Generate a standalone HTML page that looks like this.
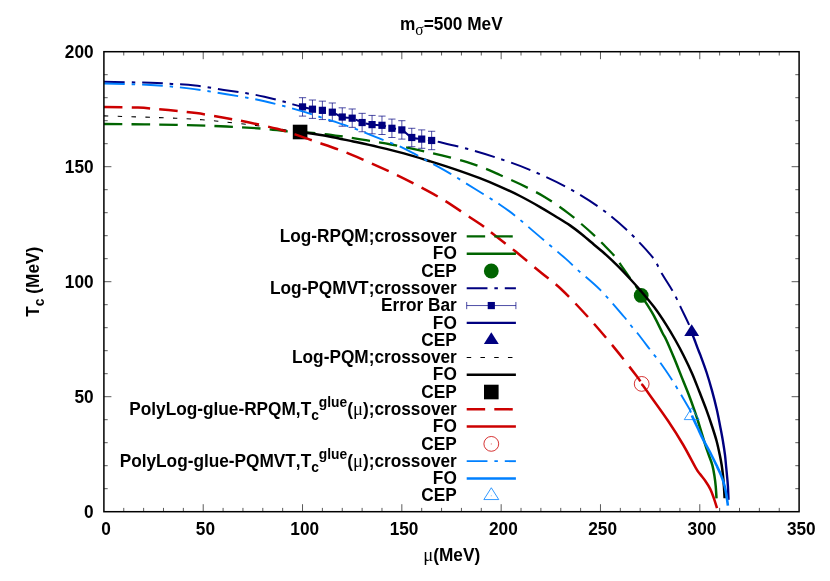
<!DOCTYPE html>
<html><head><meta charset="utf-8"><title>Phase diagram</title>
<style>html,body{margin:0;padding:0;background:#fff;}body{width:830px;height:581px;overflow:hidden;}svg{display:block;will-change:transform;}text{font-family:"Liberation Sans",sans-serif;font-weight:bold;fill:#000;font-kerning:none;}.sym{font-family:"Liberation Serif",serif;font-weight:normal;}</style>
</head><body>
<svg width="830" height="581" viewBox="0 0 830 581">
<rect width="830" height="581" fill="#fff"/>
<g stroke="#000" stroke-width="0.65" fill="none">
<path d="M123.76,511.70 v-3.80 M123.76,51.70 v3.80"/>
<path d="M143.63,511.70 v-3.80 M143.63,51.70 v3.80"/>
<path d="M163.49,511.70 v-3.80 M163.49,51.70 v3.80"/>
<path d="M183.35,511.70 v-3.80 M183.35,51.70 v3.80"/>
<path d="M203.21,511.70 v-7.50 M203.21,51.70 v7.50"/>
<path d="M223.08,511.70 v-3.80 M223.08,51.70 v3.80"/>
<path d="M242.94,511.70 v-3.80 M242.94,51.70 v3.80"/>
<path d="M262.80,511.70 v-3.80 M262.80,51.70 v3.80"/>
<path d="M282.67,511.70 v-3.80 M282.67,51.70 v3.80"/>
<path d="M302.53,511.70 v-7.50 M302.53,51.70 v7.50"/>
<path d="M322.39,511.70 v-3.80 M322.39,51.70 v3.80"/>
<path d="M342.25,511.70 v-3.80 M342.25,51.70 v3.80"/>
<path d="M362.12,511.70 v-3.80 M362.12,51.70 v3.80"/>
<path d="M381.98,511.70 v-3.80 M381.98,51.70 v3.80"/>
<path d="M401.84,511.70 v-7.50 M401.84,51.70 v7.50"/>
<path d="M421.71,511.70 v-3.80 M421.71,51.70 v3.80"/>
<path d="M441.57,511.70 v-3.80 M441.57,51.70 v3.80"/>
<path d="M461.43,511.70 v-3.80 M461.43,51.70 v3.80"/>
<path d="M481.29,511.70 v-3.80 M481.29,51.70 v3.80"/>
<path d="M501.16,511.70 v-7.50 M501.16,51.70 v7.50"/>
<path d="M521.02,511.70 v-3.80 M521.02,51.70 v3.80"/>
<path d="M540.88,511.70 v-3.80 M540.88,51.70 v3.80"/>
<path d="M560.75,511.70 v-3.80 M560.75,51.70 v3.80"/>
<path d="M580.61,511.70 v-3.80 M580.61,51.70 v3.80"/>
<path d="M600.47,511.70 v-7.50 M600.47,51.70 v7.50"/>
<path d="M620.33,511.70 v-3.80 M620.33,51.70 v3.80"/>
<path d="M640.20,511.70 v-3.80 M640.20,51.70 v3.80"/>
<path d="M660.06,511.70 v-3.80 M660.06,51.70 v3.80"/>
<path d="M679.92,511.70 v-3.80 M679.92,51.70 v3.80"/>
<path d="M699.79,511.70 v-7.50 M699.79,51.70 v7.50"/>
<path d="M719.65,511.70 v-3.80 M719.65,51.70 v3.80"/>
<path d="M739.51,511.70 v-3.80 M739.51,51.70 v3.80"/>
<path d="M759.37,511.70 v-3.80 M759.37,51.70 v3.80"/>
<path d="M779.24,511.70 v-3.80 M779.24,51.70 v3.80"/>
<path d="M103.90,488.70 h3.80 M799.10,488.70 h-3.80"/>
<path d="M103.90,465.70 h3.80 M799.10,465.70 h-3.80"/>
<path d="M103.90,442.70 h3.80 M799.10,442.70 h-3.80"/>
<path d="M103.90,419.70 h3.80 M799.10,419.70 h-3.80"/>
<path d="M103.90,396.70 h7.50 M799.10,396.70 h-7.50"/>
<path d="M103.90,373.70 h3.80 M799.10,373.70 h-3.80"/>
<path d="M103.90,350.70 h3.80 M799.10,350.70 h-3.80"/>
<path d="M103.90,327.70 h3.80 M799.10,327.70 h-3.80"/>
<path d="M103.90,304.70 h3.80 M799.10,304.70 h-3.80"/>
<path d="M103.90,281.70 h7.50 M799.10,281.70 h-7.50"/>
<path d="M103.90,258.70 h3.80 M799.10,258.70 h-3.80"/>
<path d="M103.90,235.70 h3.80 M799.10,235.70 h-3.80"/>
<path d="M103.90,212.70 h3.80 M799.10,212.70 h-3.80"/>
<path d="M103.90,189.70 h3.80 M799.10,189.70 h-3.80"/>
<path d="M103.90,166.70 h7.50 M799.10,166.70 h-7.50"/>
<path d="M103.90,143.70 h3.80 M799.10,143.70 h-3.80"/>
<path d="M103.90,120.70 h3.80 M799.10,120.70 h-3.80"/>
<path d="M103.90,97.70 h3.80 M799.10,97.70 h-3.80"/>
<path d="M103.90,74.70 h3.80 M799.10,74.70 h-3.80"/>
</g>
<g font-size="17.25">
<text transform="translate(106.10,534.70) scale(1,1.050)" text-anchor="middle" font-size="17.25">0</text>
<text transform="translate(205.41,534.70) scale(1,1.050)" text-anchor="middle" font-size="17.25">50</text>
<text transform="translate(304.73,534.70) scale(1,1.050)" text-anchor="middle" font-size="17.25">100</text>
<text transform="translate(404.04,534.70) scale(1,1.050)" text-anchor="middle" font-size="17.25">150</text>
<text transform="translate(503.36,534.70) scale(1,1.050)" text-anchor="middle" font-size="17.25">200</text>
<text transform="translate(602.67,534.70) scale(1,1.050)" text-anchor="middle" font-size="17.25">250</text>
<text transform="translate(701.99,534.70) scale(1,1.050)" text-anchor="middle" font-size="17.25">300</text>
<text transform="translate(801.30,534.70) scale(1,1.050)" text-anchor="middle" font-size="17.25">350</text>
<text transform="translate(93.60,517.60) scale(1,1.050)" text-anchor="end" font-size="17.25">0</text>
<text transform="translate(93.60,402.60) scale(1,1.050)" text-anchor="end" font-size="17.25">50</text>
<text transform="translate(93.60,287.60) scale(1,1.050)" text-anchor="end" font-size="17.25">100</text>
<text transform="translate(93.60,172.60) scale(1,1.050)" text-anchor="end" font-size="17.25">150</text>
<text transform="translate(93.60,57.60) scale(1,1.050)" text-anchor="end" font-size="17.25">200</text>
</g>
<g id="curves">
<path d="M104.00,124.00 C115.98,124.13 155.48,124.38 175.90,124.80 C196.32,125.22 211.73,125.83 226.50,126.50 C241.27,127.17 254.38,127.98 264.50,128.80 C274.62,129.62 278.73,130.68 287.20,131.40 C295.67,132.12 306.40,132.30 315.30,133.10 C324.20,133.90 332.17,135.02 340.60,136.20 C349.03,137.38 357.47,138.82 365.90,140.20 C374.33,141.58 382.77,142.93 391.20,144.50 C399.63,146.07 408.07,147.78 416.50,149.60 C424.93,151.42 433.37,153.30 441.80,155.40 C450.23,157.50 459.90,160.02 467.10,162.20 C474.30,164.38 479.52,166.37 485.00,168.50 C490.48,170.63 494.08,172.37 500.00,175.00 C505.92,177.63 513.07,180.65 520.50,184.30 C527.93,187.95 536.77,192.18 544.60,196.90 C552.43,201.62 561.27,208.00 567.50,212.60 C573.73,217.20 577.37,220.55 582.00,224.50 C586.63,228.45 591.88,233.13 595.30,236.30 C598.72,239.47 599.28,240.20 602.50,243.50 C605.72,246.80 611.58,252.58 614.60,256.10 C617.62,259.62 618.20,261.18 620.60,264.60 C623.00,268.02 626.18,272.58 629.00,276.60 C631.82,280.62 635.47,285.57 637.50,288.70 C639.53,291.83 640.58,294.28 641.20,295.40" fill="none" stroke="#006400" stroke-width="2.30" stroke-linecap="butt" stroke-linejoin="round" stroke-dasharray="18.45 9.15"/>
<path d="M641.20,295.40 C641.95,296.55 643.55,298.85 645.70,302.30 C647.85,305.75 651.30,310.98 654.10,316.10 C656.90,321.22 660.47,329.02 662.50,333.00 C664.53,336.98 664.37,335.82 666.30,340.00 C668.23,344.18 671.60,352.08 674.10,358.10 C676.60,364.12 678.88,370.08 681.30,376.10 C683.72,382.12 686.43,388.57 688.60,394.20 C690.77,399.83 692.63,405.10 694.30,409.90 C695.97,414.70 696.78,417.22 698.60,423.00 C700.42,428.78 703.50,439.27 705.20,444.60 C706.90,449.93 707.60,451.55 708.80,455.00 C710.00,458.45 711.47,461.87 712.40,465.30 C713.33,468.73 713.85,472.15 714.40,475.60 C714.95,479.05 715.35,482.22 715.70,486.00 C716.05,489.78 716.37,496.25 716.50,498.30" fill="none" stroke="#006400" stroke-width="2.50" stroke-linecap="butt" stroke-linejoin="round"/>
<circle cx="641.20" cy="295.40" r="7.40" fill="#006400"/>
<path d="M104.00,81.70 C111.77,81.88 139.27,82.43 150.60,82.80 C161.93,83.17 164.60,83.47 172.00,83.90 C179.40,84.33 186.35,84.40 195.00,85.40 C203.65,86.40 215.47,88.62 223.90,89.90 C232.33,91.18 238.85,91.97 245.60,93.10 C252.35,94.23 258.13,95.30 264.40,96.70 C270.67,98.10 278.43,100.22 283.20,101.50 C287.97,102.78 289.78,103.50 293.00,104.40 C296.22,105.30 299.29,106.10 302.53,106.90 C305.77,107.70 309.15,108.63 312.46,109.20 C315.77,109.78 319.08,109.85 322.39,110.35 C325.70,110.85 329.01,111.08 332.32,112.19 C335.63,113.30 338.94,116.02 342.25,117.02 C345.56,118.02 348.88,117.25 352.19,118.17 C355.50,119.09 358.81,121.47 362.12,122.54 C365.43,123.61 368.74,124.15 372.05,124.61 C375.36,125.07 378.67,124.69 381.98,125.30 C385.29,125.91 388.60,127.52 391.91,128.29 C395.22,129.06 398.53,128.37 401.84,129.90 C405.15,131.43 408.46,135.96 411.77,137.49 C415.08,139.02 418.40,138.60 421.71,139.10 C425.02,139.60 428.70,140.00 431.64,140.48 C434.57,140.96 433.39,140.61 439.30,142.00 C445.21,143.39 457.82,146.27 467.10,148.80 C476.38,151.33 484.85,153.82 495.00,157.20 C505.15,160.58 516.18,164.17 528.00,169.10 C539.82,174.03 554.10,180.48 565.90,186.80 C577.70,193.12 588.68,199.83 598.80,207.00 C608.92,214.17 617.75,221.57 626.60,229.80 C635.45,238.03 646.13,249.28 651.90,256.40 C657.67,263.52 657.82,266.87 661.20,272.50 C664.58,278.13 669.67,285.93 672.20,290.20 C674.73,294.47 675.00,295.28 676.40,298.10 C677.80,300.92 678.50,302.68 680.60,307.10 C682.70,311.52 687.15,320.47 689.00,324.60 C690.85,328.73 691.25,330.68 691.70,331.90" fill="none" stroke="#000080" stroke-width="2.00" stroke-linecap="butt" stroke-linejoin="round" stroke-dasharray="20.77 6.92 3.47 6.92"/>
<g stroke="#000080" stroke-width="0.7" fill="none">
<path d="M302.53,97.70 V116.10 M298.93,97.70 h7.20 M298.93,116.10 h7.20"/>
<path d="M312.46,100.00 V118.40 M308.86,100.00 h7.20 M308.86,118.40 h7.20"/>
<path d="M322.39,101.15 V119.55 M318.79,101.15 h7.20 M318.79,119.55 h7.20"/>
<path d="M332.32,102.99 V121.39 M328.72,102.99 h7.20 M328.72,121.39 h7.20"/>
<path d="M342.25,107.82 V126.22 M338.65,107.82 h7.20 M338.65,126.22 h7.20"/>
<path d="M352.19,108.97 V127.37 M348.59,108.97 h7.20 M348.59,127.37 h7.20"/>
<path d="M362.12,113.34 V131.74 M358.52,113.34 h7.20 M358.52,131.74 h7.20"/>
<path d="M372.05,115.41 V133.81 M368.45,115.41 h7.20 M368.45,133.81 h7.20"/>
<path d="M381.98,116.10 V134.50 M378.38,116.10 h7.20 M378.38,134.50 h7.20"/>
<path d="M391.91,119.09 V137.49 M388.31,119.09 h7.20 M388.31,137.49 h7.20"/>
<path d="M401.84,120.70 V139.10 M398.24,120.70 h7.20 M398.24,139.10 h7.20"/>
<path d="M411.77,128.29 V146.69 M408.17,128.29 h7.20 M408.17,146.69 h7.20"/>
<path d="M421.71,129.90 V148.30 M418.11,129.90 h7.20 M418.11,148.30 h7.20"/>
<path d="M431.64,131.28 V149.68 M428.04,131.28 h7.20 M428.04,149.68 h7.20"/>
</g>
<rect x="298.93" y="103.30" width="7.20" height="7.20" fill="#000080"/>
<rect x="308.86" y="105.60" width="7.20" height="7.20" fill="#000080"/>
<rect x="318.79" y="106.75" width="7.20" height="7.20" fill="#000080"/>
<rect x="328.72" y="108.59" width="7.20" height="7.20" fill="#000080"/>
<rect x="338.65" y="113.42" width="7.20" height="7.20" fill="#000080"/>
<rect x="348.59" y="114.57" width="7.20" height="7.20" fill="#000080"/>
<rect x="358.52" y="118.94" width="7.20" height="7.20" fill="#000080"/>
<rect x="368.45" y="121.01" width="7.20" height="7.20" fill="#000080"/>
<rect x="378.38" y="121.70" width="7.20" height="7.20" fill="#000080"/>
<rect x="388.31" y="124.69" width="7.20" height="7.20" fill="#000080"/>
<rect x="398.24" y="126.30" width="7.20" height="7.20" fill="#000080"/>
<rect x="408.17" y="133.89" width="7.20" height="7.20" fill="#000080"/>
<rect x="418.11" y="135.50" width="7.20" height="7.20" fill="#000080"/>
<rect x="428.04" y="136.88" width="7.20" height="7.20" fill="#000080"/>
<path d="M691.70,331.90 C691.97,332.68 692.82,335.25 693.30,336.60 C693.78,337.95 693.90,338.12 694.60,340.00 C695.30,341.88 696.50,345.28 697.50,347.90 C698.50,350.52 699.08,351.60 700.60,355.70 C702.12,359.80 704.70,366.68 706.60,372.50 C708.50,378.32 710.28,384.37 712.00,390.60 C713.72,396.83 715.52,403.83 716.90,409.90 C718.28,415.97 719.30,421.82 720.30,427.00 C721.30,432.18 722.12,436.33 722.90,441.00 C723.68,445.67 724.48,450.95 725.00,455.00 C725.52,459.05 725.67,461.87 726.00,465.30 C726.33,468.73 726.68,472.15 727.00,475.60 C727.32,479.05 727.65,481.95 727.90,486.00 C728.15,490.05 728.40,497.58 728.50,499.90" fill="none" stroke="#000080" stroke-width="2.40" stroke-linecap="butt" stroke-linejoin="round"/>
<polygon points="691.70,324.20 684.25,336.00 699.15,336.00" fill="#000080"/>
<path d="M104.00,115.90 C115.98,116.28 159.53,117.55 175.90,118.20 C192.27,118.85 193.77,119.15 202.20,119.80 C210.63,120.45 218.23,121.23 226.50,122.10 C234.77,122.97 243.72,123.97 251.80,125.00 C259.88,126.03 266.95,127.13 275.00,128.30 C283.05,129.47 295.92,131.38 300.10,132.00" fill="none" stroke="#000000" stroke-width="1.10" stroke-linecap="butt" stroke-linejoin="round" stroke-dasharray="4.5 9.25"/>
<path d="M300.10,132.00 C304.75,132.70 319.13,134.62 328.00,136.20 C336.87,137.78 344.87,139.68 353.30,141.50 C361.73,143.32 370.17,145.12 378.60,147.10 C387.03,149.08 395.47,151.08 403.90,153.40 C412.33,155.72 420.77,158.38 429.20,161.00 C437.63,163.62 446.07,166.23 454.50,169.10 C462.93,171.97 472.22,175.28 479.80,178.20 C487.38,181.12 493.30,183.63 500.00,186.60 C506.70,189.57 513.23,192.55 520.00,196.00 C526.77,199.45 534.77,203.97 540.60,207.30 C546.43,210.63 550.10,212.98 555.00,216.00 C559.90,219.02 565.50,222.32 570.00,225.40 C574.50,228.48 577.98,231.28 582.00,234.50 C586.02,237.72 590.08,241.30 594.10,244.70 C598.12,248.10 602.08,251.28 606.10,254.90 C610.12,258.52 614.18,262.38 618.20,266.40 C622.22,270.42 626.58,275.08 630.20,279.00 C633.82,282.92 635.92,285.22 639.90,289.90 C643.88,294.58 649.73,301.32 654.10,307.10 C658.47,312.88 662.57,319.12 666.10,324.60 C669.63,330.08 672.37,334.82 675.30,340.00 C678.23,345.18 680.88,350.08 683.70,355.70 C686.52,361.32 689.58,367.68 692.20,373.70 C694.82,379.72 697.03,385.77 699.40,391.80 C701.77,397.83 704.25,404.03 706.40,409.90 C708.55,415.77 710.60,421.82 712.30,427.00 C714.00,432.18 715.35,436.33 716.60,441.00 C717.85,445.67 718.95,450.95 719.80,455.00 C720.65,459.05 721.17,461.87 721.70,465.30 C722.23,468.73 722.63,472.15 723.00,475.60 C723.37,479.05 723.63,482.22 723.90,486.00 C724.17,489.78 724.48,496.25 724.60,498.30" fill="none" stroke="#000000" stroke-width="2.50" stroke-linecap="butt" stroke-linejoin="round"/>
<rect x="292.80" y="124.70" width="14.60" height="14.60" fill="#000"/>
<path d="M104.00,107.10 C109.67,107.18 127.28,107.10 138.00,107.60 C148.72,108.10 158.60,109.18 168.30,110.10 C178.00,111.02 186.92,111.83 196.20,113.10 C205.48,114.37 215.15,116.13 224.00,117.70 C232.85,119.27 240.45,120.65 249.30,122.50 C258.15,124.35 269.48,126.82 277.10,128.80 C284.72,130.78 288.63,132.28 295.00,134.40 C301.37,136.52 307.70,138.85 315.30,141.50 C322.90,144.15 332.17,147.05 340.60,150.30 C349.03,153.55 357.47,157.32 365.90,161.00 C374.33,164.68 382.77,168.40 391.20,172.40 C399.63,176.40 408.07,180.58 416.50,185.00 C424.93,189.42 433.37,193.83 441.80,198.90 C450.23,203.97 460.35,210.97 467.10,215.40 C473.85,219.83 478.07,222.47 482.30,225.50 C486.53,228.53 487.00,229.30 492.50,233.60 C498.00,237.90 507.18,244.77 515.30,251.30 C523.42,257.83 533.58,266.52 541.20,272.80 C548.82,279.08 553.43,281.88 561.00,289.00 C568.57,296.12 578.13,306.23 586.60,315.50 C595.07,324.77 603.43,334.47 611.80,344.60 C620.17,354.73 631.82,369.75 636.80,376.30 C641.78,382.85 640.88,382.63 641.70,383.90" fill="none" stroke="#cc0000" stroke-width="2.50" stroke-linecap="butt" stroke-linejoin="round" stroke-dasharray="18.45 9.15"/>
<path d="M641.70,383.90 C643.03,385.75 645.32,388.85 649.70,395.00 C654.08,401.15 662.45,412.55 668.00,420.80 C673.55,429.05 678.35,436.62 683.00,444.50 C687.65,452.38 693.07,463.17 695.90,468.10 C698.73,473.03 698.45,471.98 700.00,474.10 C701.55,476.22 703.48,478.30 705.20,480.80 C706.92,483.30 708.85,486.18 710.30,489.10 C711.75,492.02 712.78,495.12 713.90,498.30 C715.02,501.48 716.48,506.55 717.00,508.20" fill="none" stroke="#cc0000" stroke-width="2.50" stroke-linecap="butt" stroke-linejoin="round"/>
<circle cx="641.70" cy="383.90" r="7.40" fill="none" stroke="#cc0000" stroke-width="0.8"/><circle cx="641.70" cy="383.90" r="0.55" fill="#cc0000" opacity="0.6"/>
<path d="M104.00,83.50 C111.77,83.75 136.50,84.18 150.60,85.00 C164.70,85.82 175.95,86.87 188.60,88.40 C201.25,89.93 213.85,92.07 226.50,94.20 C239.15,96.33 252.27,98.47 264.50,101.20 C276.73,103.93 290.17,107.80 299.90,110.60 C309.63,113.40 314.00,115.08 322.90,118.00 C331.80,120.92 344.02,124.73 353.30,128.10 C362.58,131.47 370.17,134.83 378.60,138.20 C387.03,141.57 395.90,144.58 403.90,148.30 C411.90,152.02 419.02,156.37 426.60,160.50 C434.18,164.63 441.38,168.38 449.40,173.10 C457.42,177.82 466.27,183.53 474.70,188.80 C483.13,194.07 493.23,200.18 500.00,204.70 C506.77,209.22 508.53,210.45 515.30,215.90 C522.07,221.35 532.17,230.23 540.60,237.40 C549.03,244.57 559.72,253.47 565.90,258.90 C572.08,264.33 571.93,264.78 577.70,270.00 C583.47,275.22 592.82,282.45 600.50,290.20 C608.18,297.95 618.80,310.70 623.80,316.50 C628.80,322.30 628.18,322.17 630.50,325.00 C632.82,327.83 634.48,329.45 637.70,333.50 C640.92,337.55 646.97,345.60 649.80,349.30 C652.63,353.00 652.88,353.37 654.70,355.70 C656.52,358.03 657.88,359.38 660.70,363.30 C663.52,367.22 668.98,375.25 671.60,379.20 C674.22,383.15 674.82,384.40 676.40,387.00 C677.98,389.60 678.90,391.08 681.10,394.80 C683.30,398.52 687.97,406.33 689.60,409.30 C691.23,412.27 690.68,412.05 690.90,412.60" fill="none" stroke="#0080ff" stroke-width="1.90" stroke-linecap="butt" stroke-linejoin="round" stroke-dasharray="20.75 6.92 3.46 6.92"/>
<path d="M691.90,415.60 C692.83,417.58 695.57,423.40 697.50,427.50 C699.43,431.60 701.18,435.62 703.50,440.20 C705.82,444.78 709.23,450.82 711.40,455.00 C713.57,459.18 714.87,461.87 716.50,465.30 C718.13,468.73 719.85,472.15 721.20,475.60 C722.55,479.05 723.70,482.55 724.60,486.00 C725.50,489.45 726.05,493.03 726.60,496.30 C727.15,499.57 727.68,504.05 727.90,505.60" fill="none" stroke="#0080ff" stroke-width="2.60" stroke-linecap="butt" stroke-linejoin="round"/>
<polygon points="691.70,407.80 684.25,419.60 699.15,419.60" fill="none" stroke="#0080ff" stroke-width="0.80"/><circle cx="691.70" cy="415.80" r="0.55" fill="#0080ff" opacity="0.6"/>
</g>
<g id="legend">
<text transform="translate(456.80,242.10) scale(1,1.050)" text-anchor="end" font-size="17.25">Log-RPQM;crossover</text>
<path d="M466.70,236.40 H515.90" fill="none" stroke="#006400" stroke-width="2.30" stroke-linecap="butt" stroke-linejoin="round" stroke-dasharray="18.45 9.15"/>
<text transform="translate(456.80,259.39) scale(1,1.050)" text-anchor="end" font-size="17.25">FO</text>
<path d="M466.70,253.69 H515.90" fill="none" stroke="#006400" stroke-width="2.50" stroke-linecap="butt" stroke-linejoin="round"/>
<text transform="translate(456.80,276.68) scale(1,1.050)" text-anchor="end" font-size="17.25">CEP</text>
<circle cx="491.30" cy="270.98" r="7.40" fill="#006400"/>
<text transform="translate(456.80,293.97) scale(1,1.050)" text-anchor="end" font-size="17.25">Log-PQMVT;crossover</text>
<path d="M466.70,288.27 H515.90" fill="none" stroke="#000080" stroke-width="2.00" stroke-linecap="butt" stroke-linejoin="round" stroke-dasharray="20.77 6.92 3.47 6.92"/>
<text transform="translate(456.80,311.26) scale(1,1.050)" text-anchor="end" font-size="17.25">Error Bar</text>
<path d="M466.70,305.56 H515.90 M466.70,301.96 v7.20 M515.90,301.96 v7.20" stroke="#000080" stroke-width="0.7" fill="none"/>
<rect x="487.70" y="301.96" width="7.20" height="7.20" fill="#000080"/>
<text transform="translate(456.80,328.55) scale(1,1.050)" text-anchor="end" font-size="17.25">FO</text>
<path d="M466.70,322.85 H515.90" fill="none" stroke="#000080" stroke-width="2.40" stroke-linecap="butt" stroke-linejoin="round"/>
<text transform="translate(456.80,345.84) scale(1,1.050)" text-anchor="end" font-size="17.25">CEP</text>
<polygon points="491.30,332.14 483.85,343.94 498.75,343.94" fill="#000080"/>
<text transform="translate(456.80,363.13) scale(1,1.050)" text-anchor="end" font-size="17.25">Log-PQM;crossover</text>
<path d="M466.70,357.43 H515.90" fill="none" stroke="#000000" stroke-width="1.10" stroke-linecap="butt" stroke-linejoin="round" stroke-dasharray="4.5 9.25"/>
<text transform="translate(456.80,380.42) scale(1,1.050)" text-anchor="end" font-size="17.25">FO</text>
<path d="M466.70,374.72 H515.90" fill="none" stroke="#000000" stroke-width="2.50" stroke-linecap="butt" stroke-linejoin="round"/>
<text transform="translate(456.80,397.71) scale(1,1.050)" text-anchor="end" font-size="17.25">CEP</text>
<rect x="484.00" y="384.71" width="14.60" height="14.60" fill="#000"/>
<text transform="translate(456.80,415.00) scale(1,1.050)" text-anchor="end" font-size="17.25">PolyLog-glue-RPQM,T<tspan dy="5" font-size="13.80">c</tspan><tspan dy="-12.6" font-size="13.80">glue</tspan><tspan dy="7.6">(</tspan><tspan font-family="Liberation Serif" font-weight="normal" font-size="18.63">μ</tspan>);crossover</text>
<path d="M466.70,409.30 H515.90" fill="none" stroke="#cc0000" stroke-width="2.50" stroke-linecap="butt" stroke-linejoin="round" stroke-dasharray="18.45 9.15"/>
<text transform="translate(456.80,432.29) scale(1,1.050)" text-anchor="end" font-size="17.25">FO</text>
<path d="M466.70,426.59 H515.90" fill="none" stroke="#cc0000" stroke-width="2.50" stroke-linecap="butt" stroke-linejoin="round"/>
<text transform="translate(456.80,449.58) scale(1,1.050)" text-anchor="end" font-size="17.25">CEP</text>
<circle cx="491.30" cy="443.88" r="7.40" fill="none" stroke="#cc0000" stroke-width="0.8"/><circle cx="491.30" cy="443.88" r="0.55" fill="#cc0000" opacity="0.6"/>
<text transform="translate(456.80,466.87) scale(1,1.050)" text-anchor="end" font-size="17.25">PolyLog-glue-PQMVT,T<tspan dy="5" font-size="13.80">c</tspan><tspan dy="-12.6" font-size="13.80">glue</tspan><tspan dy="7.6">(</tspan><tspan font-family="Liberation Serif" font-weight="normal" font-size="18.63">μ</tspan>);crossover</text>
<path d="M466.70,461.17 H515.90" fill="none" stroke="#0080ff" stroke-width="1.90" stroke-linecap="butt" stroke-linejoin="round" stroke-dasharray="20.77 6.92 3.47 6.92"/>
<text transform="translate(456.80,484.16) scale(1,1.050)" text-anchor="end" font-size="17.25">FO</text>
<path d="M466.70,478.46 H515.90" fill="none" stroke="#0080ff" stroke-width="2.60" stroke-linecap="butt" stroke-linejoin="round"/>
<text transform="translate(456.80,501.45) scale(1,1.050)" text-anchor="end" font-size="17.25">CEP</text>
<polygon points="491.30,487.75 483.85,499.55 498.75,499.55" fill="none" stroke="#0080ff" stroke-width="0.80"/><circle cx="491.30" cy="495.75" r="0.55" fill="#0080ff" opacity="0.6"/>
</g>
<rect x="103.90" y="51.70" width="695.20" height="460.00" fill="none" stroke="#000" stroke-width="1.5"/>
<text transform="translate(451.30,29.80) scale(1,1.050)" text-anchor="middle" font-size="17.25">m<tspan dy="5" font-size="15.53" font-family="Liberation Serif" font-weight="normal">σ</tspan><tspan dy="-5">=500 MeV</tspan></text>
<text transform="translate(451.70,560.50) scale(1,1.050)" text-anchor="middle" font-size="17.25"><tspan font-family="Liberation Serif" font-weight="normal" font-size="18.63">μ</tspan>(MeV)</text>
<text transform="translate(38.70,281.70) rotate(-90) scale(1,1.050)" text-anchor="middle" font-size="17.25">T<tspan dy="5" font-size="13.80">c</tspan><tspan dy="-5"> (MeV)</tspan></text>
</svg></body></html>
